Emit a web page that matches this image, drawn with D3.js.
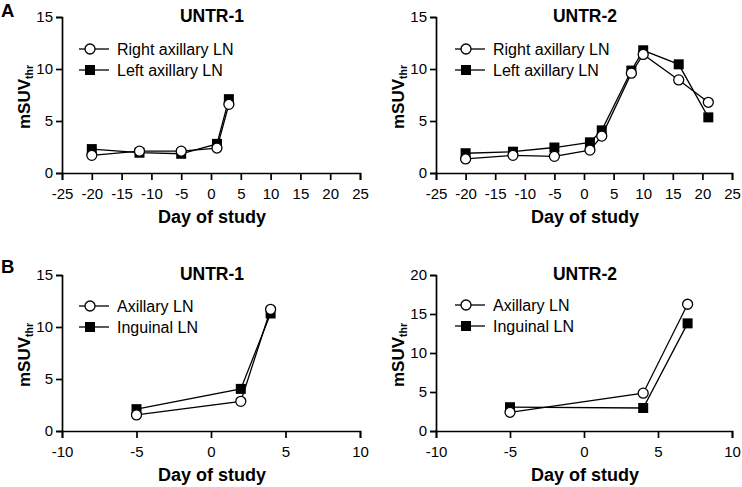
<!DOCTYPE html>
<html><head><meta charset="utf-8">
<script src="https://cdn.jsdelivr.net/npm/d3@7"></script>
<style>body{margin:0;background:#fff}svg{display:block}text{font-family:"Liberation Sans",Arial,sans-serif}</style>
</head><body>
<svg id="c" width="742" height="487"></svg>
<script>
// Panel A
const a1Days = [-20, -12, -5, 1, 3];
const a1Right = [1.7, 2.1, 2.1, 2.4, 6.6];
const a1Left = [2.3, 1.95, 1.85, 2.8, 7.1];
const a2Days = [-20, -12, -5, 1, 3, 8, 10, 16, 21];
const a2Right = [1.35, 1.7, 1.6, 2.2, 3.55, 9.6, 11.4, 8.95, 6.8];
const a2Left = [1.9, 2.05, 2.45, 2.95, 4.1, 9.85, 11.8, 10.45, 5.35];
// Panel B
const b1Days = [-5, 2, 4];
const b1Axillary = [1.55, 2.85, 11.7];
const b1Inguinal = [2.1, 4.05, 11.3];
const b2Days = [-5, 4, 7];
const b2Axillary = [2.4, 4.85, 16.25];
const b2Inguinal = [3.05, 2.95, 13.8];
// Ticks
const xTicksA = [-25, -20, -15, -10, -5, 0, 5, 10, 15, 20, 25];
const xTicksB = [-10, -5, 0, 5, 10];
const yTicks15 = [0, 5, 10, 15];
const yTicks20 = [0, 5, 10, 15, 20];

const svg = d3.select("#c");
const FONT = '"Liberation Sans",Arial,sans-serif';

const panels = [
  {x0:62, x1:360, y0:173, y1:17, xd:[-25,25], yd:[0,15], xt:xTicksA, yt:yTicks15, title:"UNTR-1",
   days:a1Days, s1:a1Right, s2:a1Left, l1:"Right axillary LN", l2:"Left axillary LN", letter:"A", letY:17, lx:90, ly:49},
  {x0:436, x1:732, y0:173, y1:17, xd:[-25,25], yd:[0,15], xt:xTicksA, yt:yTicks15, title:"UNTR-2",
   days:a2Days, s1:a2Right, s2:a2Left, l1:"Right axillary LN", l2:"Left axillary LN", lx:466, ly:49},
  {x0:62, x1:360, y0:431, y1:275, xd:[-10,10], yd:[0,15], xt:xTicksB, yt:yTicks15, title:"UNTR-1",
   days:b1Days, s1:b1Axillary, s2:b1Inguinal, l1:"Axillary LN", l2:"Inguinal LN", letter:"B", letY:273, lx:90, ly:306},
  {x0:436, x1:732, y0:431, y1:275, xd:[-10,10], yd:[0,20], xt:xTicksB, yt:yTicks20, title:"UNTR-2",
   days:b2Days, s1:b2Axillary, s2:b2Inguinal, l1:"Axillary LN", l2:"Inguinal LN", lx:466, ly:305}
];

panels.forEach(p => {
  const x = d3.scaleLinear().domain(p.xd).range([p.x0, p.x1]);
  const y = d3.scaleLinear().domain(p.yd).range([p.y0, p.y1]);
  const g = svg.append("g");

  const xa = g.append("g").attr("transform", `translate(0,${p.y0})`)
    .call(d3.axisBottom(x).tickValues(p.xt).tickSize(7).tickPadding(8).tickFormat(d => String(d)));
  const ya = g.append("g").attr("transform", `translate(${p.x0},0)`)
    .call(d3.axisLeft(y).tickValues(p.yt).tickSize(6).tickPadding(3).tickFormat(d => String(d)));
  [xa, ya].forEach(a => {
    a.select(".domain").attr("stroke", "#000").attr("stroke-width", 1.7);
    a.selectAll(".tick line").attr("stroke", "#000").attr("stroke-width", 1.7);
    a.selectAll(".tick text").attr("font-size", 15).attr("fill", "#000").style("font-family", FONT);
  });

  const line = d3.line().x((d, i) => x(p.days[i])).y(d => y(d));
  g.append("path").datum(p.s2).attr("d", line).attr("fill", "none").attr("stroke", "#000").attr("stroke-width", 1.3);
  g.append("path").datum(p.s1).attr("d", line).attr("fill", "none").attr("stroke", "#000").attr("stroke-width", 1.3);
  g.selectAll(".sq").data(p.s2).join("rect")
    .attr("x", (d, i) => x(p.days[i]) - 5).attr("y", d => y(d) - 5)
    .attr("width", 10).attr("height", 10).attr("fill", "#000");
  g.selectAll(".ci").data(p.s1).join("circle")
    .attr("cx", (d, i) => x(p.days[i])).attr("cy", d => y(d)).attr("r", 5)
    .attr("fill", "#fff").attr("stroke", "#000").attr("stroke-width", 1.3);

  // title
  g.append("text").attr("x", (p.x0 + p.x1) / 2 + 1).attr("y", p.y1 + 4.5).attr("text-anchor", "middle")
    .attr("font-size", 17.5).attr("font-weight", "bold").text(p.title);
  // x label
  g.append("text").attr("x", (p.x0 + p.x1) / 2 + 1).attr("y", p.y0 + 50).attr("text-anchor", "middle")
    .attr("font-size", 18).attr("font-weight", "bold").text("Day of study");
  // y label
  const yl = g.append("text").attr("transform", `translate(${p.x0 - 32},${(p.y0 + p.y1) / 2 + 2}) rotate(-90)`)
    .attr("text-anchor", "middle").attr("font-size", 17).attr("font-weight", "bold");
  yl.append("tspan").text("mSUV");
  yl.append("tspan").attr("font-size", 10.5).attr("dy", 3).text("thr");

  // legend
  [[p.l1, "c"], [p.l2, "s"]].forEach(([lab, t], i) => {
    const ly = p.ly + i * 21;
    g.append("line").attr("x1", p.lx - 11).attr("x2", p.lx + 19).attr("y1", ly).attr("y2", ly)
      .attr("stroke", "#000").attr("stroke-width", 1.3);
    if (t === "c") g.append("circle").attr("cx", p.lx).attr("cy", ly).attr("r", 5)
      .attr("fill", "#fff").attr("stroke", "#000").attr("stroke-width", 1.3);
    else g.append("rect").attr("x", p.lx - 5).attr("y", ly - 5).attr("width", 10).attr("height", 10).attr("fill", "#000");
    g.append("text").attr("x", p.lx + 27).attr("y", ly + 5.5).attr("font-size", 16).text(lab);
  });

  if (p.letter) svg.append("text").attr("x", 1).attr("y", p.letY).attr("font-size", 18.5)
    .attr("font-weight", "bold").text(p.letter);
});
</script>
</body></html>
